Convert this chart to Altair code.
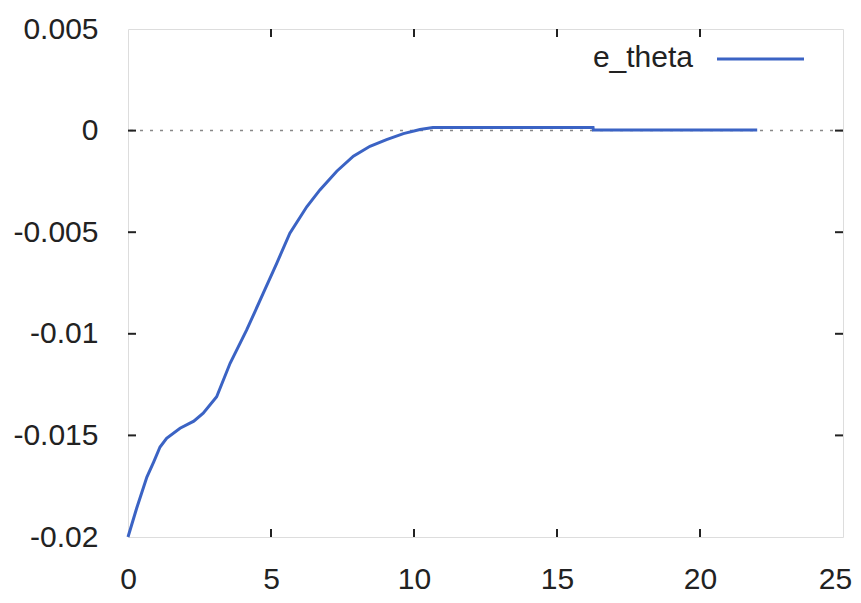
import altair as alt
import pandas as pd

# e_theta series
t_vals = [0, 0.3, 0.66, 0.9, 1.12, 1.35, 1.82, 2.3, 2.63, 3.1, 3.57, 4.15, 4.73,
          5.2, 5.66, 6.25, 6.71, 7.3, 7.88, 8.46, 9.04, 9.63, 10.21, 10.66,
          16.26, 16.27, 22.0]
e_vals = [-0.02, -0.0186, -0.01705, -0.0163, -0.01557, -0.01514, -0.01465, -0.0143,
          -0.01391, -0.0131, -0.01145, -0.00981, -0.0080, -0.00653, -0.00505,
          -0.00375, -0.00292, -0.002, -0.00126, -0.00077, -0.00044, -0.00015, 0.00005,
          0.00015, 0.00015, 0.00003, 0.00003]

x_ticks = [0, 5, 10, 15, 20, 25]
y_ticks = [-0.02, -0.015, -0.01, -0.005, 0, 0.005]
x_inner = [5, 10, 15, 20]
y_inner = [-0.015, -0.01, -0.005, 0]
series_name = "e_theta"

W, H = 715, 508
FONT = "Liberation Sans"
FS = 30
BLUE = "#3b63c4"

df = pd.DataFrame({"t": t_vals, "e": e_vals})
xs = alt.Scale(domain=[0, 25], nice=False, zero=False)
ys = alt.Scale(domain=[-0.02, 0.005], nice=False, zero=False)

xaxis = alt.Axis(values=x_ticks, ticks=False, domain=False, grid=False,
                 labelPadding=27, labelFontSize=FS, labelFont=FONT, labelColor="#222",
                 title=None, format="d", labelFlush=False,
                 labelOffset={"condition": {"test": "datum.value == 25", "value": -8},
                              "value": 0})
yaxis = alt.Axis(values=y_ticks, ticks=False, domain=False, grid=False,
                 labelPadding=30, labelFontSize=FS, labelFont=FONT, labelColor="#222",
                 title=None, labelExpr="toString(datum.value)")

zero = alt.Chart(pd.DataFrame({"y": [0]})).mark_rule(
    color="#888", strokeDash=[3, 7], strokeWidth=1.5
).encode(y=alt.Y("y:Q", scale=ys, axis=yaxis))

line = alt.Chart(df).mark_line(color=BLUE, strokeWidth=3, interpolate="linear").encode(
    x=alt.X("t:Q", scale=xs, axis=xaxis),
    y=alt.Y("e:Q", scale=ys, axis=yaxis),
)

xt = pd.DataFrame({"x": x_inner})
yt = pd.DataFrame({"y": y_inner})
tb = alt.Chart(xt).mark_rule(color="#222", strokeWidth=2).encode(
    x=alt.X("x:Q", scale=xs), y=alt.value(H), y2=alt.value(H - 8))
tt = alt.Chart(xt).mark_rule(color="#222", strokeWidth=2).encode(
    x=alt.X("x:Q", scale=xs), y=alt.value(0), y2=alt.value(8))
tl = alt.Chart(yt).mark_rule(color="#222", strokeWidth=2).encode(
    y=alt.Y("y:Q", scale=ys), x=alt.value(0), x2=alt.value(8))
tr = alt.Chart(yt).mark_rule(color="#222", strokeWidth=2).encode(
    y=alt.Y("y:Q", scale=ys), x=alt.value(W), x2=alt.value(W - 8))

leg = pd.DataFrame({"name": [series_name]})
leg_text = alt.Chart(leg).mark_text(
    align="right", baseline="middle", fontSize=FS, font=FONT, color="#222"
).encode(text="name:N", x=alt.value(565), y=alt.value(29))
leg_line = alt.Chart(leg).mark_rule(color=BLUE, strokeWidth=3).encode(
    x=alt.value(589), x2=alt.value(676), y=alt.value(30), detail="name:N")

chart = alt.layer(zero, line, tb, tt, tl, tr, leg_text, leg_line).properties(
    width=W, height=H,
    autosize=alt.AutoSizeParams(type="none"),
    padding={"left": 120, "top": 21, "right": 10, "bottom": 58},
).configure_view(stroke="#222", strokeWidth=2).configure(background="white")

chart.save("out.html", embed_options={"renderer": "svg", "actions": False})
